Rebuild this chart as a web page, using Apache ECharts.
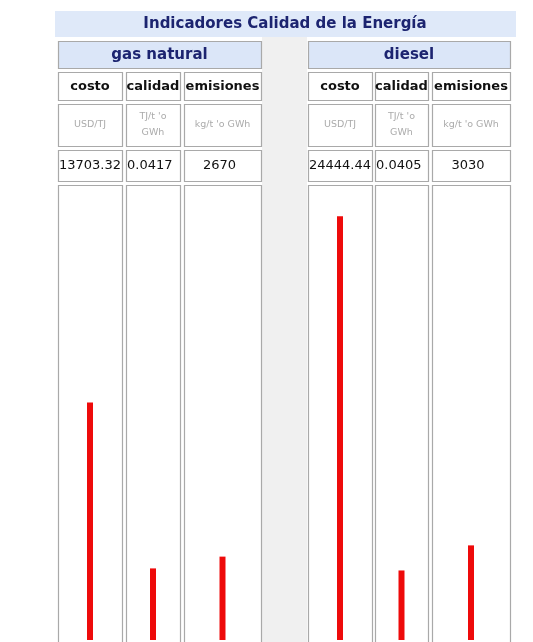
<!DOCTYPE html>
<html>
<head>
<meta charset="utf-8">
<script src="https://cdn.jsdelivr.net/npm/echarts@6/dist/echarts.min.js"></script>
<style>
  html, body { margin: 0; padding: 0; background: #fff; }
  #chart-container { width: 533px; height: 642px; }
</style>
</head>
<body>
<div id="chart-container"></div>
<script>
const title = "Indicadores Calidad de la Energía";
const fuels = ["gas natural", "diesel"];
const metrics = ["costo", "calidad", "emisiones"];
const units = ["USD/TJ", "TJ/t 'o\nGWh", "kg/t 'o GWh"];
const costo = [13703.32, 24444.44];
const calidad = [0.0417, 0.0405];
const emisiones = [2670, 3030];
const valueLabels = [
  ["13703.32", "0.0417", "2670"],
  ["24444.44", "0.0405", "3030"],
];

const values = [costo, calidad, emisiones];
// same scale for a metric in both panels
const axisMax = [26250, 0.265, 14570];

// layout of the table
const panelX = [
  [[58, 122], [126, 180], [184, 261]],
  [[308, 372], [375, 428], [432, 510]],
];
const chartTop = 185;
const chartBottom = 640;
const fontFamily = "DejaVu Sans";
const navy = "#1c2470";
const border = "#a9a9a9";

const dom = document.getElementById("chart-container");
const myChart = echarts.init(dom, null, { renderer: "canvas" });

const graphics = [
  {
    type: "rect",
    shape: { x: 262, y: 37, width: 45, height: 620 },
    style: { fill: "#f0f0f0" },
    z: 0,
  },
  {
    type: "rect",
    shape: { x: 55, y: 11, width: 461, height: 26 },
    style: { fill: "#dfe9f9" },
    z: 0,
  },
  {
    type: "text",
    style: {
      text: title,
      x: 285,
      y: 24,
      textAlign: "center",
      textVerticalAlign: "middle",
      font: "bold 15px " + fontFamily,
      fill: navy,
    },
    z: 1,
  },
];

function cell(x0, x1, y0, y1, fill) {
  graphics.push({
    type: "rect",
    shape: { x: x0 + 0.5, y: y0 + 0.5, width: x1 - x0, height: y1 - y0 },
    style: { fill: fill, stroke: border, lineWidth: 1.2 },
    z: 0,
  });
}

function label(text, x, y, font, fill, align) {
  graphics.push({
    type: "text",
    style: {
      text: text,
      x: x,
      y: y,
      textAlign: align || "center",
      textVerticalAlign: "middle",
      font: font,
      fill: fill,
      lineHeight: 16,
    },
    z: 1,
  });
}

const grids = [];
const xAxes = [];
const yAxes = [];
const series = [];

fuels.forEach((fuel, f) => {
  const cols = panelX[f];
  const px0 = cols[0][0];
  const px1 = cols[2][1];
  cell(px0, px1, 41, 68, "#dbe6f8");
  label(fuel, (px0 + px1) / 2, 55, "bold 15px " + fontFamily, navy);

  metrics.forEach((m, i) => {
    const [x0, x1] = cols[i];
    const cx = (x0 + x1) / 2;
    cell(x0, x1, 72, 100, "#fff");
    label(m, cx, 87, "bold 13px " + fontFamily, "#111");
    cell(x0, x1, 104, 146, "#fff");
    label(units[i], cx, 125, "9.5px " + fontFamily, "#ababab");
    cell(x0, x1, 150, 181, "#fff");
    if (i < 2) {
      label(valueLabels[f][i], x0 + 1, 166, "13px " + fontFamily, "#111", "left");
    } else {
      label(valueLabels[f][i], cx - 3, 166, "13px " + fontFamily, "#111");
    }
    cell(x0, x1, chartTop, 700, "#fff");

    const idx = grids.length;
    grids.push({
      left: x0,
      top: chartTop,
      width: x1 - x0,
      height: chartBottom - chartTop,
      containLabel: false,
    });
    xAxes.push({
      type: "category",
      gridIndex: idx,
      data: [m],
      show: false,
    });
    yAxes.push({
      type: "value",
      gridIndex: idx,
      min: 0,
      max: axisMax[i],
      show: false,
    });
    series.push({
      name: fuel + " " + m,
      type: "bar",
      xAxisIndex: idx,
      yAxisIndex: idx,
      data: [values[i][f]],
      barWidth: 6,
      itemStyle: { color: "#ee0a0a" },
      z: 5,
    });
  });
});

const option = {
  animation: false,
  backgroundColor: "#fff",
  graphic: { elements: graphics },
  grid: grids,
  xAxis: xAxes,
  yAxis: yAxes,
  series: series,
};

myChart.setOption(option);
window.addEventListener("resize", myChart.resize);
</script>
</body>
</html>
